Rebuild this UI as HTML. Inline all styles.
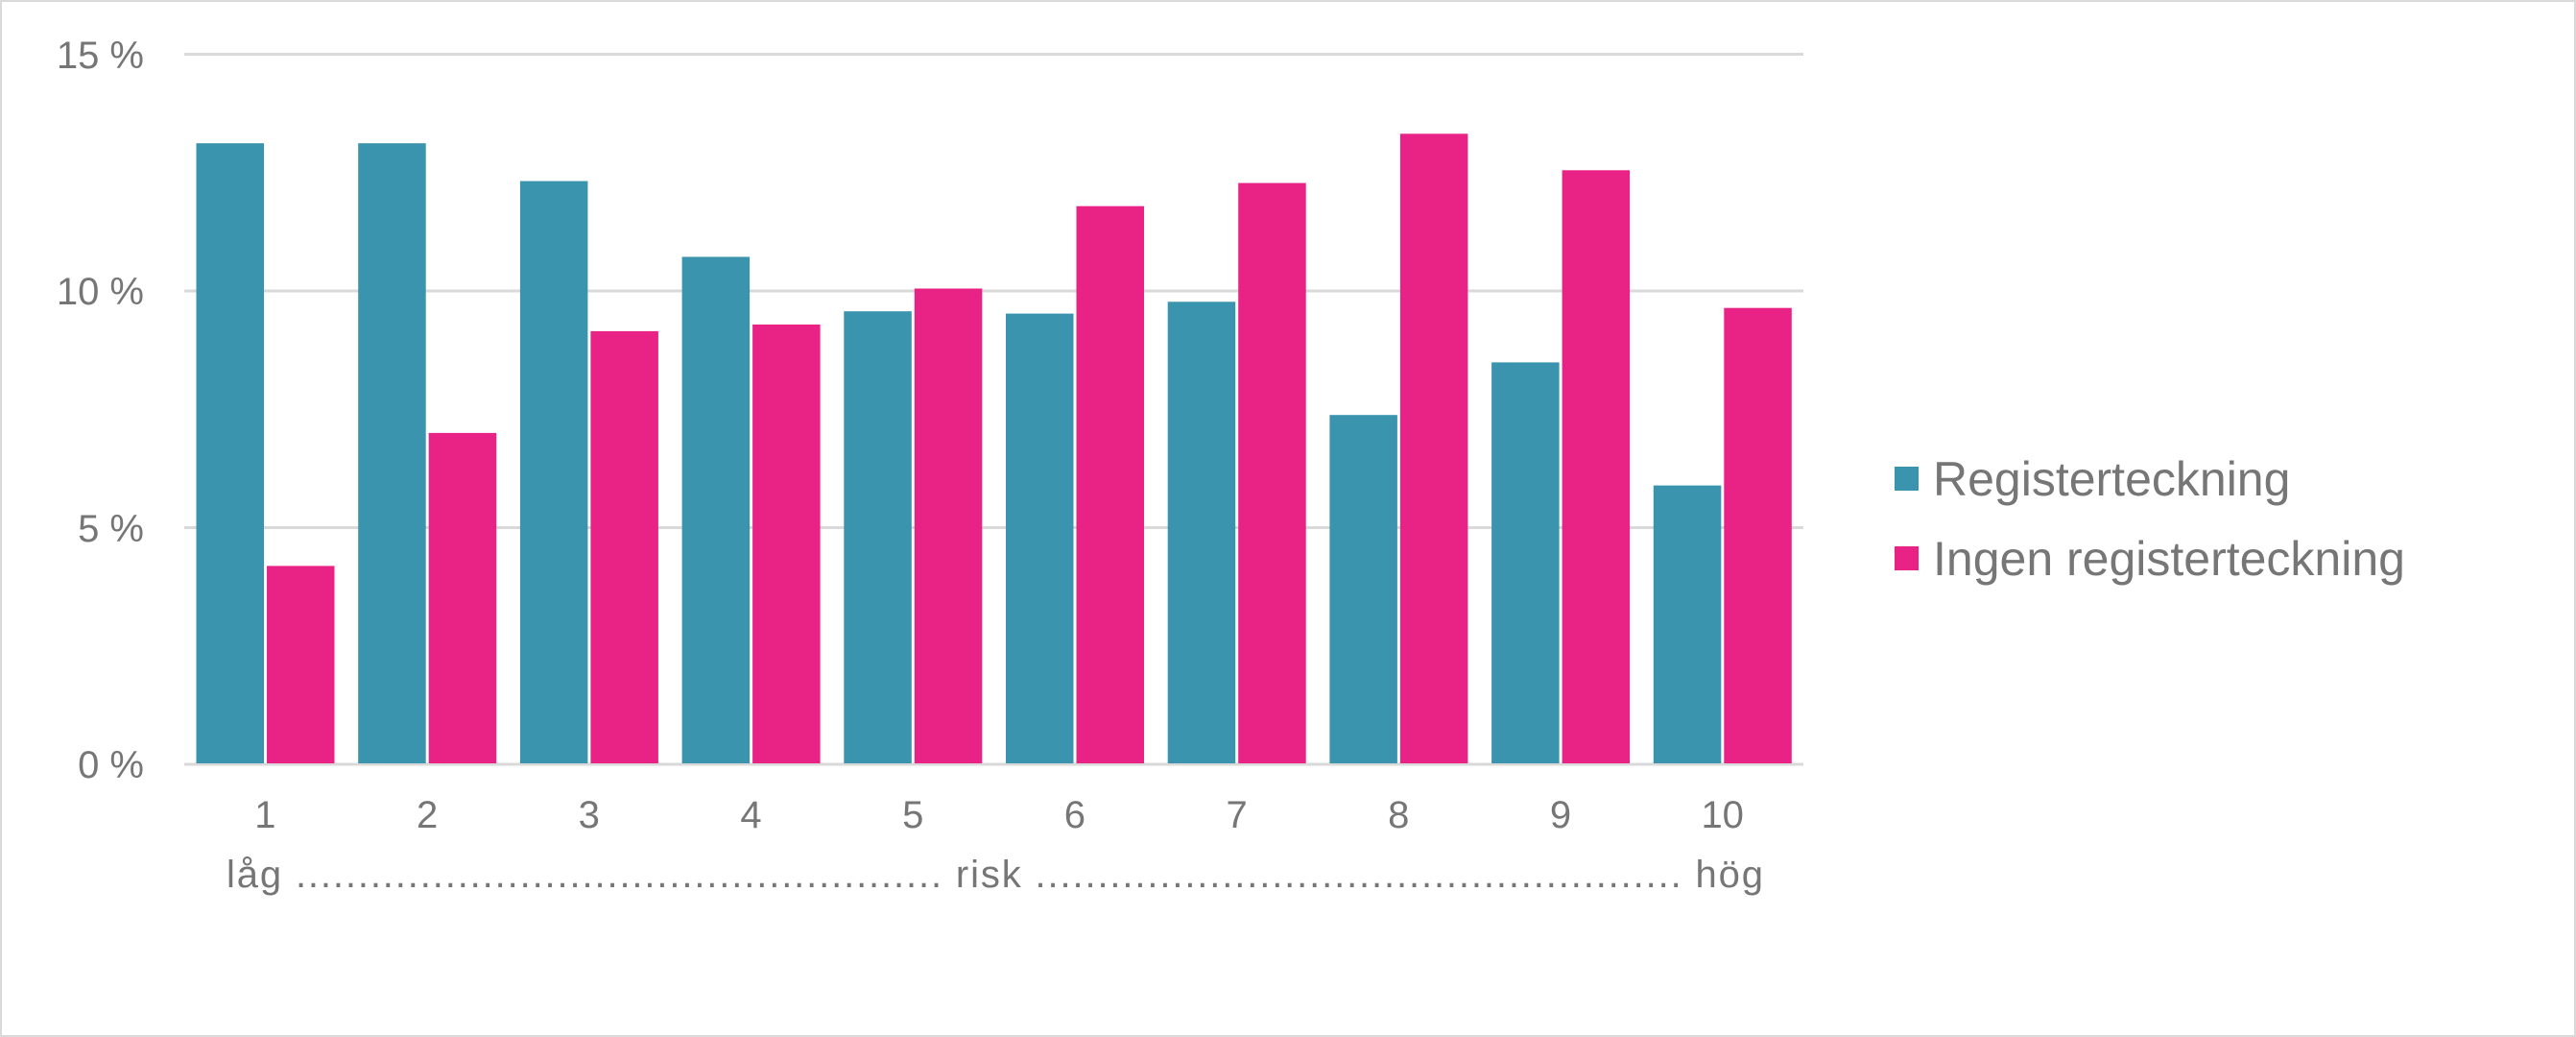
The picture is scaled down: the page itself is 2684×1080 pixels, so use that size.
<!DOCTYPE html>
<html><head><meta charset="utf-8"><style>
html,body{margin:0;padding:0;background:#fff}
svg{display:block}
text{font-family:"Liberation Sans",Arial,sans-serif;fill:#767676}
</style></head><body>
<svg width="2684" height="1080" viewBox="0 0 2684 1080" xmlns="http://www.w3.org/2000/svg">
<rect x="1" y="1" width="2682" height="1078" fill="#fff" stroke="#d9d9d9" stroke-width="2"/>
<g stroke="#d9d9d9" stroke-width="3">
<line x1="192" x2="1879" y1="56.5" y2="56.5"/>
<line x1="192" x2="1879" y1="303" y2="303"/>
<line x1="192" x2="1879" y1="549.5" y2="549.5"/>
<line x1="192" x2="1879" y1="796" y2="796"/>
</g>
<g font-size="40" text-anchor="end">
<text x="150" y="71">15 %</text>
<text x="150" y="317">10 %</text>
<text x="150" y="564">5 %</text>
<text x="150" y="810">0 %</text>
</g>
<g fill="#3A94AE">
<rect x="204.5" y="149.2" width="70.5" height="645.8"/>
<rect x="373.2" y="149.2" width="70.5" height="645.8"/>
<rect x="541.9" y="188.6" width="70.5" height="606.4"/>
<rect x="710.6" y="267.5" width="70.5" height="527.5"/>
<rect x="879.3" y="324.2" width="70.5" height="470.8"/>
<rect x="1048" y="326.6" width="70.5" height="468.4"/>
<rect x="1216.7" y="314.3" width="70.5" height="480.7"/>
<rect x="1385.4" y="432.2" width="70.5" height="362.8"/>
<rect x="1554.1" y="377.4" width="70.5" height="417.6"/>
<rect x="1722.8" y="505.6" width="70.5" height="289.4"/>
</g>
<g fill="#E92386">
<rect x="278" y="589.4" width="70.5" height="205.6"/>
<rect x="446.7" y="450.9" width="70.5" height="344.1"/>
<rect x="615.4" y="344.9" width="70.5" height="450.1"/>
<rect x="784.1" y="338" width="70.5" height="457"/>
<rect x="952.8" y="300.5" width="70.5" height="494.5"/>
<rect x="1121.5" y="214.7" width="70.5" height="580.3"/>
<rect x="1290.2" y="190.6" width="70.5" height="604.4"/>
<rect x="1458.9" y="139.3" width="70.5" height="655.7"/>
<rect x="1627.6" y="177.3" width="70.5" height="617.7"/>
<rect x="1796.3" y="320.7" width="70.5" height="474.3"/>
</g>
<g font-size="40" text-anchor="middle">
<text x="276.4" y="862">1</text>
<text x="445.1" y="862">2</text>
<text x="613.8" y="862">3</text>
<text x="782.5" y="862">4</text>
<text x="951.2" y="862">5</text>
<text x="1119.9" y="862">6</text>
<text x="1288.6" y="862">7</text>
<text x="1457.3" y="862">8</text>
<text x="1626" y="862">9</text>
<text x="1794.7" y="862">10</text>
</g>
<text x="236" y="924" font-size="40" textLength="1601" lengthAdjust="spacing">låg .................................................... risk .................................................... hög</text>
<rect x="1974" y="486" width="25" height="25" fill="#3A94AE"/>
<text x="2014" y="516" font-size="50">Registerteckning</text>
<rect x="1974" y="569" width="25" height="25" fill="#E92386"/>
<text x="2014" y="599" font-size="50">Ingen registerteckning</text>
</svg>
</body></html>
